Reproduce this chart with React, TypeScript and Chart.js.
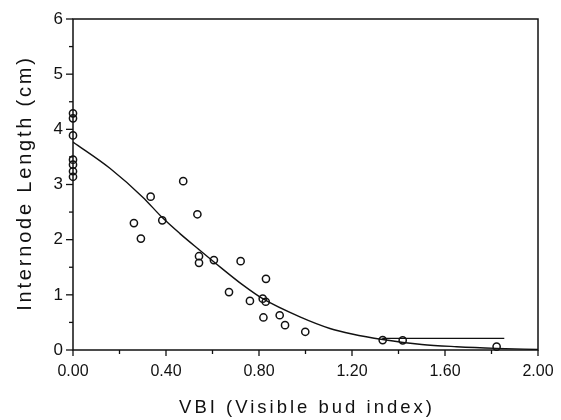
import React, { useEffect, useRef } from "react";
import { Chart, registerables } from "chart.js";

Chart.register(...registerables);

// Observed points
const vbi = [0, 0, 0, 0, 0, 0, 0, 0.262, 0.292, 0.334, 0.384, 0.474, 0.535, 0.542, 0.542, 0.606, 0.671, 0.721, 0.761, 0.816, 0.819, 0.829, 0.830, 0.889, 0.912, 0.999, 1.332, 1.418, 1.822];
const internodeLength = [4.29, 4.20, 3.89, 3.45, 3.36, 3.24, 3.14, 2.30, 2.02, 2.78, 2.35, 3.06, 2.46, 1.70, 1.58, 1.63, 1.05, 1.61, 0.89, 0.93, 0.59, 0.875, 1.29, 0.63, 0.45, 0.33, 0.18, 0.175, 0.06];
// fitted curve
const curveX = [0, 0.16, 0.3, 0.384, 0.46, 0.542, 0.64, 0.73, 0.816, 0.976, 1.105, 1.2, 1.332, 1.5, 1.65, 1.82, 2.0];
const curveY = [3.77, 3.29, 2.77, 2.40, 2.11, 1.82, 1.48, 1.18, 0.93, 0.60, 0.39, 0.29, 0.19, 0.10, 0.06, 0.03, 0.01];
// horizontal segment
const segX = [1.33, 1.855];
const segY = [0.21, 0.21];

const xTicks = ["0.00", "0.40", "0.80", "1.20", "1.60", "2.00"];
const yTicks = ["0", "1", "2", "3", "4", "5", "6"];
const xTitle = "VBI (Visible bud index)";
const yTitle = "Internode Length (cm)";

export default function App() {
  const ref = useRef<HTMLCanvasElement | null>(null);
  useEffect(() => {
    if (!ref.current) return;
    const pts = vbi.map((x, i) => ({ x, y: internodeLength[i] }));
    const frame = {
      id: "frame",
      afterDraw(chart: any) {
        const { ctx, chartArea: a, scales } = chart;
        ctx.save();
        ctx.strokeStyle = "#111";
        ctx.lineWidth = 1.5;
        ctx.strokeRect(a.left, a.top, a.right - a.left, a.bottom - a.top);
        ctx.lineWidth = 1.3;
        for (let v = 0; v <= 6.001; v += 0.5) {
          const p = scales.y.getPixelForValue(v);
          const major = Math.abs(v - Math.round(v)) < 1e-6;
          ctx.beginPath();
          ctx.moveTo(a.left - (major ? 7 : 4), p);
          ctx.lineTo(a.left, p);
          ctx.stroke();
        }
        for (let i = 0; i <= 10; i++) {
          const p = scales.x.getPixelForValue(i * 0.2);
          const major = i % 2 === 0;
          ctx.beginPath();
          ctx.moveTo(p, a.bottom);
          ctx.lineTo(p, a.bottom + (major ? 6 : 4));
          ctx.stroke();
        }
        // axis titles
        ctx.fillStyle = "#111";
        ctx.textAlign = "center";
        ctx.textBaseline = "alphabetic";
        (ctx as any).letterSpacing = "3px";
        ctx.font = "18.5px 'Liberation Sans'";
        ctx.fillText(xTitle, (a.left + a.right) / 2 + 1.5, 413);
        ctx.save();
        ctx.translate(31, (a.top + a.bottom) / 2);
        ctx.rotate(-Math.PI / 2);
        ctx.font = "20px 'Liberation Sans'";
        (ctx as any).letterSpacing = "2.8px";
        ctx.fillText(yTitle, 1.5, 0);
        ctx.restore();
        (ctx as any).letterSpacing = "0px";
        ctx.restore();
      },
    };
    const chart = new Chart(ref.current, {
      type: "scatter",
      data: {
        datasets: [
          {
            data: pts,
            pointStyle: "circle",
            pointRadius: 3.6,
            borderColor: "#111",
            borderWidth: 1.5,
            backgroundColor: "rgba(0,0,0,0)",
            showLine: false,
            clip: false,
          } as any,
          {
            data: curveX.map((x, i) => ({ x, y: curveY[i] })),
            showLine: true,
            pointRadius: 0,
            borderColor: "#111",
            borderWidth: 1.4,
            cubicInterpolationMode: "monotone",
            fill: false,
          } as any,
          {
            data: segX.map((x, i) => ({ x, y: segY[i] })),
            showLine: true,
            pointRadius: 0,
            borderColor: "#111",
            borderWidth: 1.2,
            fill: false,
          },
        ],
      },
      options: {
        animation: false,
        responsive: false,
        layout: { padding: { left: 0, right: 23, top: 19, bottom: 0 } },
        plugins: { legend: { display: false }, tooltip: { enabled: false } },
        scales: {
          x: {
            type: "linear",
            min: 0,
            max: 2,
            afterFit: (s: any) => { s.height = 70; s.paddingLeft = 0; s.paddingRight = 0; },
            grid: { display: false, drawTicks: false },
            border: { display: false },
            ticks: {
              stepSize: 0.4,
              padding: 12,
              color: "#111",
              font: { family: "Liberation Sans", size: 16 },
              maxRotation: 0,
              callback: (v: any) => xTicks[Math.round(Number(v) / 0.4)] ?? "",
            },
            title: { display: false },
          },
          y: {
            type: "linear",
            min: 0,
            max: 6,
            afterFit: (s: any) => { s.width = 73; s.paddingTop = 0; s.paddingBottom = 0; },
            grid: { display: false, drawTicks: false },
            border: { display: false },
            ticks: {
              stepSize: 1,
              padding: 10,
              color: "#111",
              font: { family: "Liberation Sans", size: 17 },
              callback: (v: any) => yTicks[Math.round(Number(v))] ?? "",
            },
            title: { display: false },
          },
        },
      },
      plugins: [frame],
    });
    return () => chart.destroy();
  }, []);
  return (
    <div style={{ position: "fixed", left: 0, top: 0, width: 561, height: 420, background: "#fff" }}>
      <canvas ref={ref} width={561} height={420} style={{ width: 561, height: 420 }} />
    </div>
  );
}
